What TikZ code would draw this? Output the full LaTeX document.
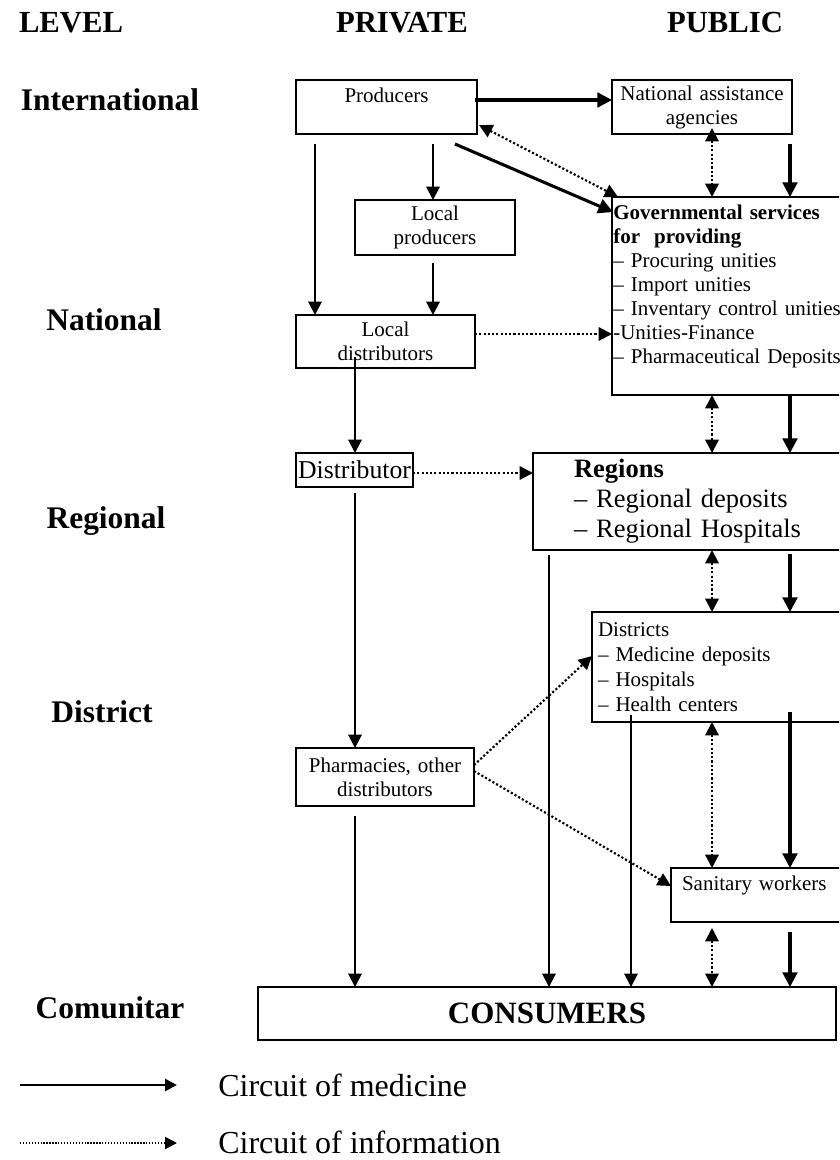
\documentclass[tikz,border=0pt]{standalone}
\usepackage{fontspec}
\setmainfont{Liberation Serif}
\usetikzlibrary{arrows.meta,calc}
\begin{document}
\begin{tikzpicture}[x=0.75pt,y=-0.75pt,
  box/.style={draw,line width=1.5pt,inner sep=0pt,outer sep=0pt,align=center},
  small/.style={font=\fontsize{15.75}{18}\selectfont},
  hdr/.style={font=\bfseries\fontsize{23}{25}\selectfont,inner sep=0pt,anchor=base},
  lvl/.style={font=\bfseries\fontsize{23.6}{26}\selectfont,inner sep=0pt,anchor=base},
  med/.style={line width=1.5pt,-{Triangle[length=10pt,width=10pt]}},
  medthick/.style={line width=2.3pt,-{Triangle[length=11pt,width=11pt]}},
  info/.style={line width=1.6pt,dash pattern=on 1.6pt off 1.6pt,-{Triangle[length=10pt,width=10pt]}},
  infob/.style={info,{Triangle[length=10pt,width=10pt]}-{Triangle[length=10pt,width=10pt]}},
  legtext/.style={anchor=west,inner sep=0pt,font=\fontsize{24}{26}\selectfont},
]
\useasboundingbox (0,0) rectangle (839,1160);
\clip (0,0) rectangle (839,1160);

% headers
\node[hdr] (hlevel) at (71,32) {LEVEL};
\node[hdr] (hpriv) at (402,32) {PRIVATE};
\node[hdr] (hpub) at (725,32) {PUBLIC};

% level labels
\node[lvl] (lint) at (110,110) {International};
\node[lvl] (lnat) at (104,330) {National};
\node[lvl] (lreg) at (106,528) {Regional};
\node[lvl] (ldis) at (102,722) {District};
\node[lvl] (lcom) at (110,1018) {Comunitar};

% boxes
\node[box,small,minimum width=135.75pt,minimum height=40.5pt,text width=135.75pt] (prod) at (386.5,107) {Producers\\\mbox{}};
\node[box,small,minimum width=135pt,minimum height=40.5pt,text width=135pt] (nat) at (702,107) {National assistance\\agencies};
\node[box,small,minimum width=120pt,minimum height=41.25pt,text width=120pt] (lprod) at (435,227.5) {Local\\producers};
\node[box,small,align=left,minimum width=174.75pt,minimum height=148.5pt,text width=172.75pt,inner xsep=1pt] (gov) at (728.5,296)
  {\textbf{Governmental services}\\\textbf{for\ \ providing}\\– Procuring unities\\– Import unities\\– Inventary control unities\\-Unities-Finance\\– Pharmaceutical Deposits\\\mbox{}};
\node[box,small,minimum width=134.25pt,minimum height=39.75pt,text width=134.25pt] (ldist) at (385.5,341.5) {Local\\distributors};
\node[box,font=\fontsize{19.3}{22}\selectfont,minimum width=87.75pt,minimum height=25.5pt,text width=87.75pt] (distr) at (354.5,470) {Distributor};
\node[box,align=left,font=\fontsize{19.9}{22.5}\selectfont,minimum width=234pt,minimum height=72.75pt,text width=172.5pt,inner xsep=30.75pt] (regions) at (689,501.5)
  {\textbf{Regions}\\– Regional deposits\\– Regional Hospitals};
\node[box,align=left,font=\fontsize{15.75}{18.75}\selectfont,minimum width=189.75pt,minimum height=82.5pt,text width=180.75pt,inner xsep=4.5pt] (districts) at (718.5,667)
  {Districts\\– Medicine deposits\\– Hospitals\\– Health centers};
\node[box,small,minimum width=133.5pt,minimum height=43.5pt,text width=133.5pt] (pharm) at (385,777) {Pharmacies, other\\distributors};
\node[box,small,align=left,minimum width=130.5pt,minimum height=40.5pt,text width=114pt,inner xsep=8.25pt] (sanit) at (758,895) {Sanitary workers\\\mbox{}};
\node[box,font=\bfseries\fontsize{23.25}{26}\selectfont,minimum width=433.5pt,minimum height=39.75pt,text width=433.5pt] (cons) at (547,1013.5) {CONSUMERS};

% column / row helpers
\coordinate (x315) at (315,0);
\coordinate (x433) at (433,0);
\coordinate (x355) at (355,0);
\coordinate (x455) at (455,0);
\coordinate (x549) at (549,0);
\coordinate (x631) at (631,0);
\coordinate (x712) at (712,0);
\coordinate (x790) at (790,0);
\coordinate (y100) at (0,100);
\coordinate (y334) at (0,334);
\coordinate (y473) at (0,473);

% circuit of medicine (private)
\draw[med,shorten <=7.5pt] (prod.south -| x315) -- (ldist.north -| x315);
\draw[med,shorten <=7.5pt] (prod.south -| x433) -- (lprod.north -| x433);
\draw[med,shorten <=6pt] (lprod.south -| x433) -- (ldist.north -| x433);
\draw[med] ($(ldist.south -| x355)+(0,-11)$) -- (distr.north -| x355);
\draw[med,shorten <=4.5pt] (distr.south -| x355) -- (pharm.north -| x355);
\draw[med,shorten <=7.5pt] (pharm.south -| x355) -- (cons.north -| x355);
\draw[med,shorten <=4pt] (regions.south -| x549) -- (cons.north -| x549);
\draw[med] ($(districts.south -| x631)+(0,-7)$) -- (cons.north -| x631);

% circuit of medicine (thick)
\draw[medthick] ($(prod.east |- y100)+(-2,0)$) -- (nat.west |- y100);
\draw[medthick] ($(prod.south -| x455)+(0,10)$) -- ($(gov.north west)+(1,15)$);
\draw[medthick,shorten <=7.5pt] (nat.south -| x790) -- (gov.north -| x790);
\draw[medthick] (gov.south -| x790) -- (regions.north -| x790);
\draw[medthick,shorten <=3pt] (regions.south -| x790) -- (districts.north -| x790);
\draw[medthick] ($(districts.south -| x790)+(0,-10)$) -- (sanit.north -| x790);
\draw[medthick,shorten <=7.5pt] (sanit.south -| x790) -- (cons.north -| x790);

% circuit of information
\draw[infob] ($(prod.south east)+(2,-9)$) -- ($(gov.north west)+(6,0)$);
\draw[infob] ($(nat.south -| x712)+(0,-6)$) -- (gov.north -| x712);
\draw[info] (ldist.east |- y334) -- (gov.west |- y334);
\draw[infob] (gov.south -| x712) -- (regions.north -| x712);
\draw[info] (distr.east |- y473) -- (regions.west |- y473);
\draw[infob] (regions.south -| x712) -- (districts.north -| x712);
\draw[info] ($(pharm.east)+(0,-12)$) -- ($(districts.west)+(0,-11)$);
\draw[info] ($(pharm.east)+(0,-6)$) -- ($(sanit.west)+(0,-9)$);
\draw[infob] (districts.south -| x712) -- (sanit.north -| x712);
\draw[infob] ($(sanit.south -| x712)+(0,6)$) -- (cons.north -| x712);

% legend
\coordinate (lm1) at (20,1085);
\coordinate (lm2) at (177,1085);
\coordinate (li1) at (20,1143);
\coordinate (li2) at (177,1143);
\draw[line width=2pt,-{Triangle[length=9pt,width=9pt]}] (lm1) -- (lm2);
\draw[line width=1.5pt,dash pattern=on 1pt off 1.2pt,-{Triangle[length=9pt,width=9pt]}] (li1) -- (li2);
\node[legtext] (lmt) at (218,1085) {Circuit of medicine};
\node[legtext] (lit) at (218,1142) {Circuit of information};
\end{tikzpicture}
\end{document}
